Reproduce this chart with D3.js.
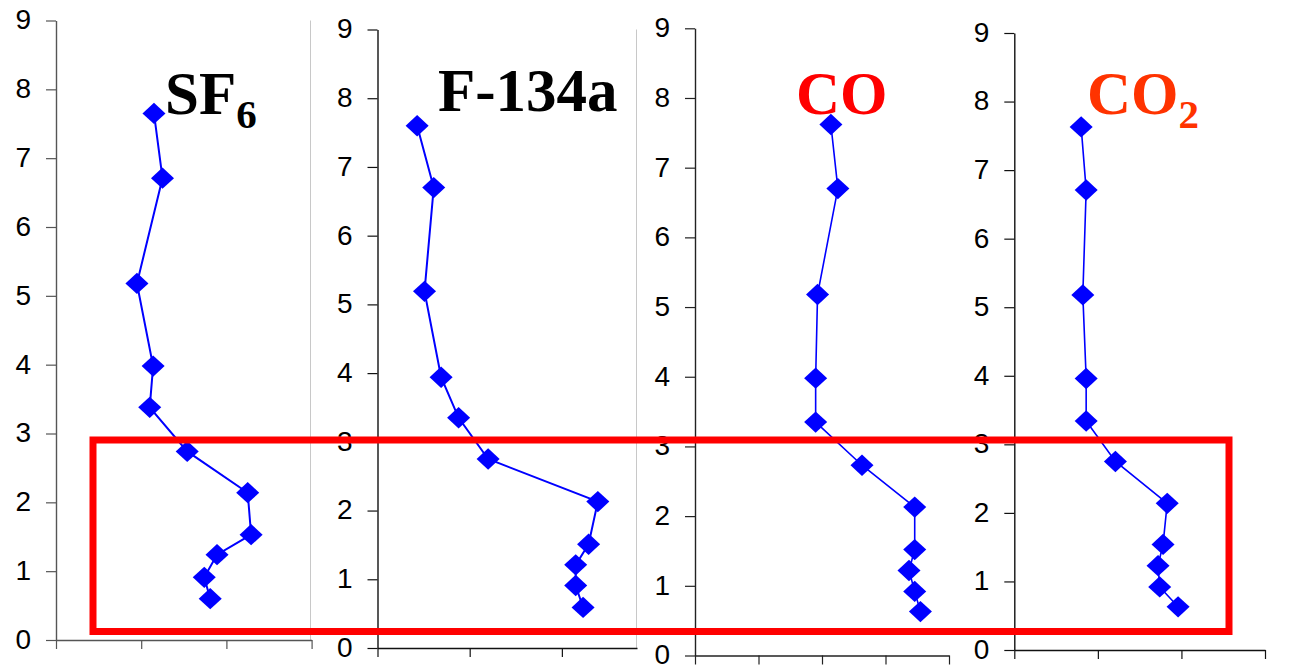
<!DOCTYPE html>
<html>
<head>
<meta charset="utf-8">
<script src="https://cdn.jsdelivr.net/npm/d3@7"></script>
<style>
  html, body { margin: 0; padding: 0; background: #fff; }
  svg { display: block; }
</style>
</head>
<body>
<svg id="chart" width="1293" height="669"></svg>
<script>
// Vertical profiles: depth (y) against tracer level (x) for four gases.
const depthTicks = [0, 1, 2, 3, 4, 5, 6, 7, 8, 9];

const sf6Depth  = [7.65, 6.71, 5.18, 3.98, 3.38, 2.74, 2.14, 1.53, 1.24, 0.91, 0.60];
const sf6Value  = [1.15, 1.25, 0.95, 1.14, 1.10, 1.54, 2.25, 2.29, 1.89, 1.74, 1.81];

const f134aDepth = [7.60, 6.70, 5.19, 3.94, 3.35, 2.75, 2.13, 1.51, 1.21, 0.91, 0.59];
const f134aValue = [0.43, 0.61, 0.51, 0.69, 0.88, 1.20, 2.39, 2.29, 2.15, 2.15, 2.23];

const coDepth = [7.62, 6.70, 5.18, 3.98, 3.35, 2.73, 2.13, 1.52, 1.22, 0.92, 0.63];
const coValue = [2.14, 2.25, 1.93, 1.90, 1.90, 2.63, 3.46, 3.46, 3.37, 3.46, 3.55];

const co2Depth = [7.63, 6.71, 5.18, 3.96, 3.34, 2.75, 2.14, 1.54, 1.23, 0.92, 0.63];
const co2Value = [0.80, 0.86, 0.82, 0.86, 0.86, 1.21, 1.83, 1.78, 1.72, 1.74, 1.96];

const titles = ["SF", "F-134a", "CO", "CO"];
const titleSubs = ["6", "", "", "2"];

// Panel geometry (pixels) and x extents
const panels = [
  { depth: sf6Depth,   value: sf6Value,   xMax: 3,     x0: 56,     x1: 311.6, yTop: 20.5, yBot: 640,   title: 0, tx: 165,  ty: 114, color: "#000000", lw: 2.0, axisColor: "#555" },
  { depth: f134aDepth, value: f134aValue, xMax: 2.815, x0: 377.5,  x1: 637,   yTop: 29.5, yBot: 648,   title: 1, tx: 438,  ty: 111, color: "#000000", lw: 2.0, axisColor: "#111" },
  { depth: coDepth,    value: coValue,    xMax: 4,     x0: 695,    x1: 949,   yTop: 28.3, yBot: 655.5, title: 2, tx: 796,  ty: 114, color: "#ff0000", lw: 1.6, axisColor: "#222" },
  { depth: co2Depth,   value: co2Value,   xMax: 3,     x0: 1014.3, x1: 1265,  yTop: 33,   yBot: 650,   title: 3, tx: 1087, ty: 114, color: "#ff3300", lw: 1.6, axisColor: "#111" }
];

const svg = d3.select("#chart");
svg.append("rect").attr("width", 1293).attr("height", 669).attr("fill", "#fff");

// light plot-area borders on the right of the first two panels
svg.append("line").attr("x1", 310.5).attr("x2", 310.5).attr("y1", 20.5).attr("y2", 640)
  .attr("stroke", "#c8c8c8").attr("stroke-width", 1);
svg.append("line").attr("x1", 636.5).attr("x2", 636.5).attr("y1", 29.5).attr("y2", 648)
  .attr("stroke", "#c8c8c8").attr("stroke-width", 1);

const diamond = d3.symbol().type(d3.symbolDiamond2).size(290);

panels.forEach(p => {
  const x = d3.scaleLinear().domain([0, p.xMax]).range([p.x0, p.x1]);
  const y = d3.scaleLinear().domain([0, 9]).range([p.yBot, p.yTop]);
  const g = svg.append("g");

  // y axis
  const ya = g.append("g").attr("transform", `translate(${p.x0},0)`)
    .call(d3.axisLeft(y).tickValues(depthTicks).tickSize(10).tickSizeOuter(0).tickPadding(15).tickFormat(d3.format("d")));
  ya.select(".domain").attr("stroke", p.axisColor).attr("stroke-width", 1.4);
  ya.selectAll(".tick line").attr("stroke", p.axisColor).attr("stroke-width", 1.2);
  ya.selectAll(".tick text").attr("font-family", "'Liberation Sans', Arial, sans-serif")
    .attr("font-size", 28).attr("fill", "#000").attr("dy", "0.30em");

  // x axis (unlabelled)
  const xTicks = d3.range(0, Math.floor(p.xMax) + 1);
  const xa = g.append("g").attr("transform", `translate(0,${p.yBot})`)
    .call(d3.axisBottom(x).tickValues(xTicks).tickSize(9).tickSizeOuter(0).tickFormat(""));
  xa.select(".domain").attr("stroke", p.axisColor).attr("stroke-width", 1.4);
  xa.selectAll(".tick line").attr("stroke", p.axisColor).attr("stroke-width", 1.2);

  // profile line and markers
  const pts = p.depth.map((d, i) => [p.value[i], d]);
  g.append("path").datum(pts)
    .attr("fill", "none").attr("stroke", "#0000ff").attr("stroke-width", p.lw)
    .attr("d", d3.line().x(d => x(d[0])).y(d => y(d[1])));
  g.selectAll(".pt").data(pts).join("path").attr("class", "pt")
    .attr("d", diamond)
    .attr("transform", d => `translate(${x(d[0])},${y(d[1])}) scale(1.08,1)`)
    .attr("fill", "#0000ff");

  // title
  const t = g.append("text").attr("x", p.tx).attr("y", p.ty)
    .attr("font-family", "'Liberation Serif', 'Times New Roman', serif")
    .attr("font-weight", "bold").attr("font-size", 61).attr("fill", p.color);
  t.append("tspan").text(titles[p.title]);
  if (titleSubs[p.title]) {
    t.append("tspan").attr("dy", 14).attr("font-size", 41).text(titleSubs[p.title]);
  }
});

// highlight box around the near-bottom layer
svg.append("rect")
  .attr("x", 93).attr("y", 440).attr("width", 1229 - 93).attr("height", 631.5 - 440)
  .attr("fill", "none").attr("stroke", "#ff0000").attr("stroke-width", 7);
</script>
</body>
</html>
